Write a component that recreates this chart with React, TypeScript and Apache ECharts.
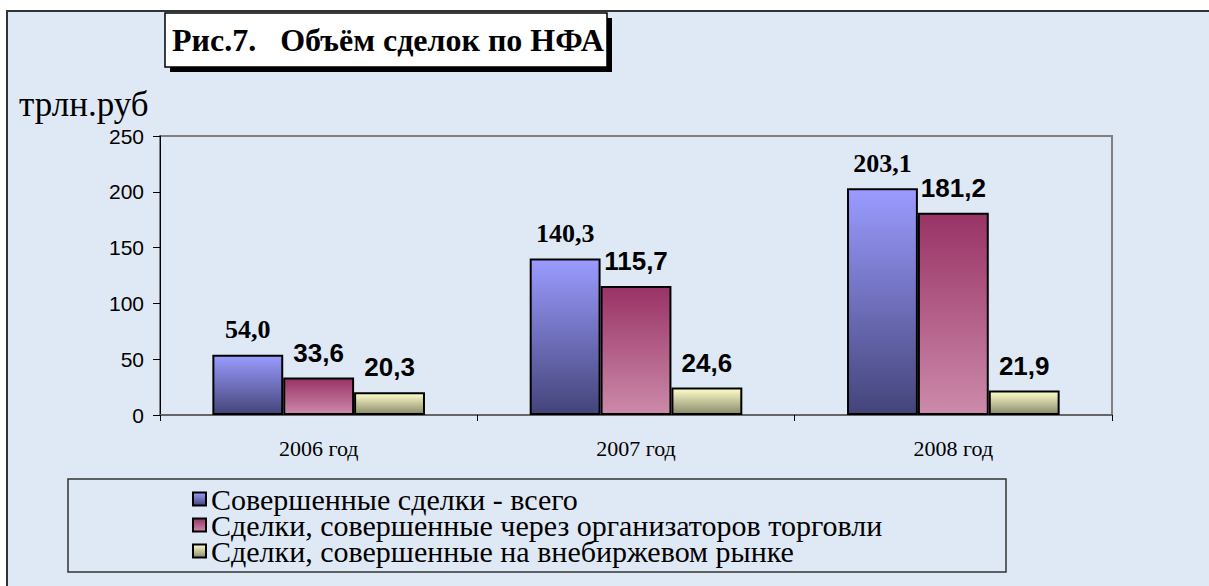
import React, { useEffect, useRef } from "react";
import * as echarts from "echarts";

const categories = ["2006 год", "2007 год", "2008 год"];
const seriesNames = [
  "Совершенные сделки - всего",
  "Сделки, совершенные через организаторов торговли",
  "Сделки, совершенные на внебиржевом рынке",
];
const totalDeals = [54.0, 140.3, 203.1];
const organizerDeals = [33.6, 115.7, 181.2];
const otcDeals = [20.3, 24.6, 21.9];
const yTicks = { min: 0, max: 250, interval: 50 };
const titleText = "Рис.7.   Объём сделок по НФА";
const unitText = "трлн.руб";

const grad = (top: string, bottom: string) =>
  new echarts.graphic.LinearGradient(0, 0, 0, 1, [
    { offset: 0, color: top },
    { offset: 1, color: bottom },
  ]);

const fmt = (p: any) => Number(p.value).toFixed(1).replace(".", ",");

export default function App() {
  const ref = useRef<HTMLDivElement>(null);
  useEffect(() => {
    if (!ref.current) return;
    const chart = echarts.init(ref.current, null, { renderer: "svg" });
    const serif = "Liberation Serif";
    const sans = "Liberation Sans";
    const mkSeries = (
      name: string,
      data: number[],
      color: any,
      labelFont: string
    ) => ({
      name,
      type: "bar",
      data,
      barGap: "0%",
      barCategoryGap: "33%",
      itemStyle: { color, borderColor: "#000", borderWidth: 2 },
      label: {
        show: true,
        position: "top",
        distance: 12,
        formatter: fmt,
        fontFamily: labelFont,
        fontWeight: "bold",
        fontSize: 26,
        color: "#000",
      },
    });
    chart.setOption({
      animation: false,
      backgroundColor: "transparent",
      textStyle: { fontFamily: serif },
      grid: {
        left: 160,
        right: 97,
        top: 136,
        bottom: 171,
        show: true,
        borderColor: "#808080",
        borderWidth: 2,
        backgroundColor: "transparent",
      },
      legend: {
        orient: "vertical",
        left: 192,
        top: 484,
        icon: "rect",
        itemWidth: 13,
        itemHeight: 13,
        itemGap: -4,
        padding: 0,
        textStyle: {
          fontFamily: serif,
          fontSize: 30,
          lineHeight: 27,
          color: "#000",
        },
        data: seriesNames,
      },
      xAxis: {
        type: "category",
        data: categories,
        axisLine: { lineStyle: { color: "#666", width: 2 } },
        axisTick: { show: true, length: 6, lineStyle: { color: "#000" } },
        axisLabel: {
          fontFamily: serif,
          fontSize: 22,
          color: "#000",
          margin: 22,
        },
      },
      yAxis: {
        type: "value",
        min: yTicks.min,
        max: yTicks.max,
        interval: yTicks.interval,
        splitLine: { show: false },
        axisLine: { show: true, lineStyle: { color: "#000", width: 1 } },
        axisTick: { show: true, length: 7, lineStyle: { color: "#000" } },
        axisLabel: {
          fontFamily: sans,
          fontSize: 21,
          color: "#000",
          margin: 16,
        },
      },
      graphic: [
        {
          type: "rect",
          shape: { x: 170, y: 18, width: 442, height: 54 },
          style: { fill: "#000" },
        },
        {
          type: "rect",
          shape: { x: 165, y: 13, width: 442, height: 54 },
          style: { fill: "#fff", stroke: "#000", lineWidth: 1.5 },
        },
        {
          type: "text",
          x: 172,
          y: 40,
          style: {
            text: titleText,
            fontFamily: serif,
            fontWeight: "bold",
            fontSize: 32,
            fill: "#000",
            verticalAlign: "middle",
          },
        },
        {
          type: "text",
          x: 19,
          y: 104,
          style: {
            text: unitText,
            fontFamily: serif,
            fontSize: 35,
            fill: "#000",
            verticalAlign: "middle",
          },
        },
        {
          type: "rect",
          shape: { x: 68, y: 479, width: 938, height: 93 },
          style: { fill: "transparent", stroke: "#333", lineWidth: 1.5 },
        },
      ],
      series: [
        mkSeries(seriesNames[0], totalDeals, grad("#9b9bff", "#44447a"), serif),
        mkSeries(seriesNames[1], organizerDeals, grad("#993366", "#cc8aaa"), sans),
        mkSeries(seriesNames[2], otcDeals, grad("#ffffcc", "#8a8a6c"), sans),
      ],
    });
    return () => chart.dispose();
  }, []);
  return (
    <div
      style={{
        position: "fixed",
        left: 0,
        top: 0,
        width: 1209,
        height: 586,
        background: "#fff",
        overflow: "hidden",
      }}
    >
      <div
        style={{
          position: "absolute",
          left: 6,
          top: 10,
          width: 1220,
          height: 600,
          background: "#dfe9f6",
          border: "2px solid #333",
        }}
      />
      <div
        ref={ref}
        style={{ position: "absolute", left: 0, top: 0, width: 1209, height: 586 }}
      />
    </div>
  );
}
